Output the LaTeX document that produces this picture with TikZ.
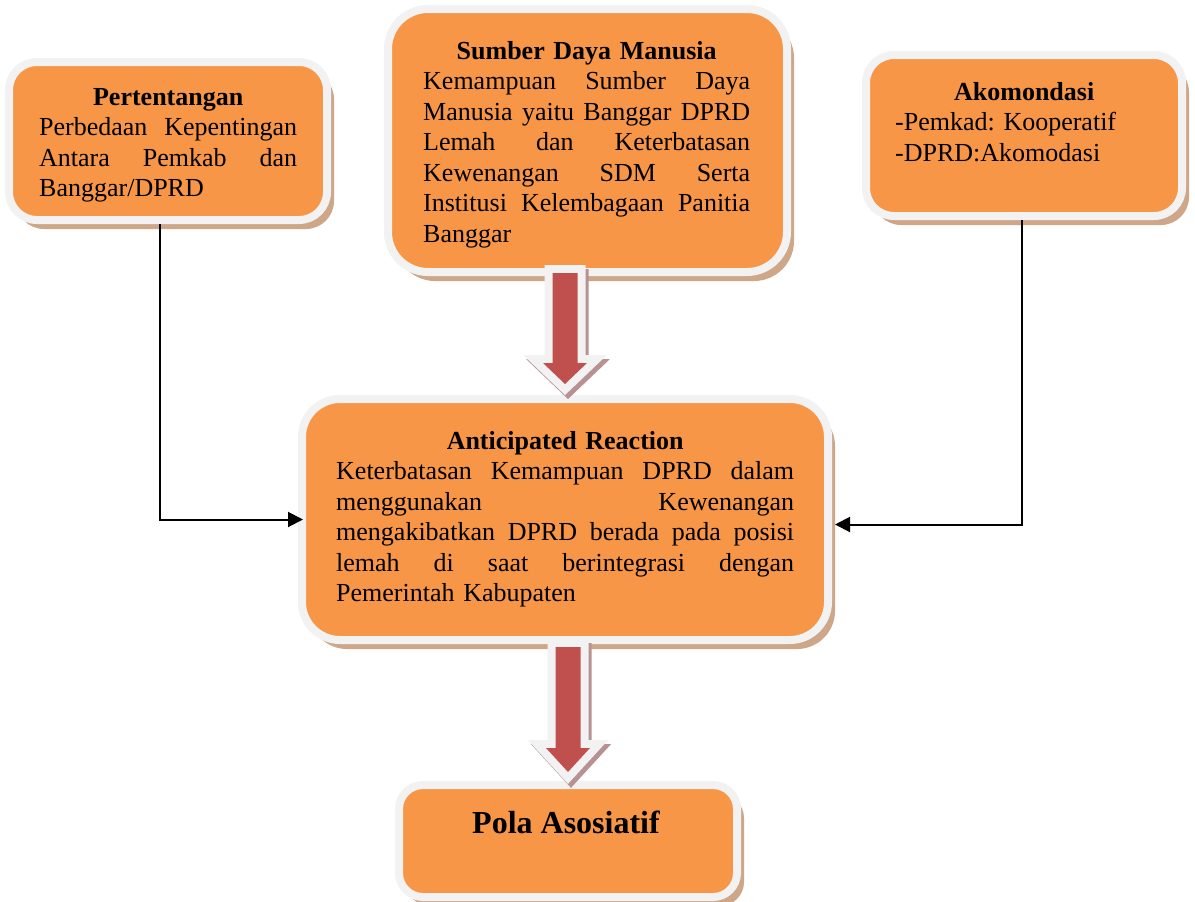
\documentclass[tikz,border=0pt]{standalone}
\usepackage{fontspec}
\setmainfont{Liberation Serif}
\usetikzlibrary{calc,shadows,arrows.meta}

\definecolor{boxorange}{HTML}{F79646}
\definecolor{boxrim}{HTML}{F2F2F2}
\definecolor{boxshade}{RGB}{206,166,136}
\definecolor{arrowred}{HTML}{C0504D}
\definecolor{arrowshade}{RGB}{184,146,146}

\setlength\parindent{0pt}
\setlength\parskip{0pt}
\frenchspacing

% one justified line, one bold centred heading line
\newcommand\jline[1]{\hbox to \linewidth{\spaceskip=0.25em plus 10em\relax #1}\par}
\newcommand\tline[1]{\hbox to \linewidth{\hfil\bfseries\strut #1\hfil}\par}

% block arrow: start (top of shaft), tip, head length, x/y offset, style
\newcommand\arrowbody[6]{%
  \path[#6] ($(#1)+(-12.5+#4,#5)$) -- ($(#2)+(-12.5+#4,-#3+#5)$)
    -- ($(#2)+(-22+#4,-#3+#5)$) -- ($(#2)+(#4,#5)$)
    -- ($(#2)+(22+#4,-#3+#5)$) -- ($(#2)+(12.5+#4,-#3+#5)$)
    -- ($(#1)+(12.5+#4,#5)$) -- cycle;}
\newcommand\blockarrow[3]{%
  \arrowbody{#1}{#2}{#3}{3}{4}{arrshade}%
  \arrowbody{#1}{#2}{#3}{0}{0}{arrrim}%
  \arrowbody{#1}{#2}{#3}{0}{0}{arrcore}}

\tikzset{
  box/.style={draw=boxrim, line width=8pt, fill=boxorange,
    drop shadow={shadow xshift=7pt, shadow yshift=-9pt, fill=boxshade, opacity=1}},
  txt/.style={anchor=north west, inner sep=0pt,
    font=\fontsize{26}{30.5}\selectfont},
  conn/.style={line width=2pt, -{Triangle[length=15pt,width=15pt]}},
  arrshade/.style={draw=arrowshade, fill=arrowshade, line width=16pt, miter limit=10},
  arrrim/.style={draw=boxrim, fill=boxrim, line width=16pt, miter limit=10},
  arrcore/.style={fill=arrowred},
}

\begin{document}
\begin{tikzpicture}[x=1pt, y=-1pt]
  \useasboundingbox (0,0) rectangle (1195,902);
  \fill[white] (0,0) rectangle (1195,902);

  % boxes
  \node[box, minimum width=318pt, minimum height=158pt, rounded corners=28pt] (per) at (168,141) {};
  \node[box, minimum width=399pt, minimum height=263pt, rounded corners=40pt] (sdm) at (587.5,140.5) {};
  \node[box, minimum width=316pt, minimum height=161pt, rounded corners=28pt] (ako) at (1024,135.5) {};
  \node[box, minimum width=526pt, minimum height=241pt, rounded corners=38pt] (ant) at (565,519.5) {};
  \node[box, minimum width=338pt, minimum height=112pt, rounded corners=24pt] (pola) at (568,841) {};

  % side connectors
  \draw[conn] ([xshift=-8pt]per.south) |- ([xshift=5pt]ant.west);
  \draw[conn] ([xshift=-2pt]ako.south) |- ([xshift=3pt,yshift=-5pt]ant.east);

  % block arrows
  \coordinate (a1s) at ($(ant.north |- sdm.south)+(0,-3)$);
  \coordinate (a1t) at ($(ant.north)+(0,-11)$);
  \coordinate (a2s) at ($(pola.north |- ant.south)+(0,3)$);
  \coordinate (a2t) at ($(pola.north)+(0,-9)$);
  \blockarrow{a1s}{a1t}{21}
  \blockarrow{a2s}{a2t}{24}

  % texts
  \node[txt, text width=258pt] (per-text) at (39,83.65) {%
    \tline{Pertentangan}
    \jline{Perbedaan Kepentingan}
    \jline{Antara Pemkab dan}
    \hbox{Banggar/DPRD}};
  \node[txt, text width=327pt] (sdm-text) at (423,37.65) {%
    \tline{Sumber Daya Manusia}
    \jline{Kemampuan Sumber Daya}
    \jline{Manusia yaitu Banggar DPRD}
    \jline{Lemah dan Keterbatasan}
    \jline{Kewenangan SDM Serta}
    \jline{Institusi Kelembagaan Panitia}
    \hbox{Banggar}};
  \node[txt, text width=258pt] (ako-text) at (895,78.65) {%
    \tline{Akomondasi}
    \hbox{-Pemkad: Kooperatif}\par
    \hbox{-DPRD:Akomodasi}};
  \node[txt, text width=458pt] (ant-text) at (336,427.65) {%
    \tline{Anticipated Reaction}
    \jline{Keterbatasan Kemampuan DPRD dalam}
    \jline{menggunakan Kewenangan}
    \jline{mengakibatkan DPRD berada pada posisi}
    \jline{lemah di saat berintegrasi dengan}
    \hbox{Pemerintah Kabupaten}};
  \node[anchor=base, inner sep=0pt, font=\fontsize{32}{38}\selectfont\bfseries] (pola-text) at (566,833) {Pola Asosiatif};
\end{tikzpicture}
\end{document}
